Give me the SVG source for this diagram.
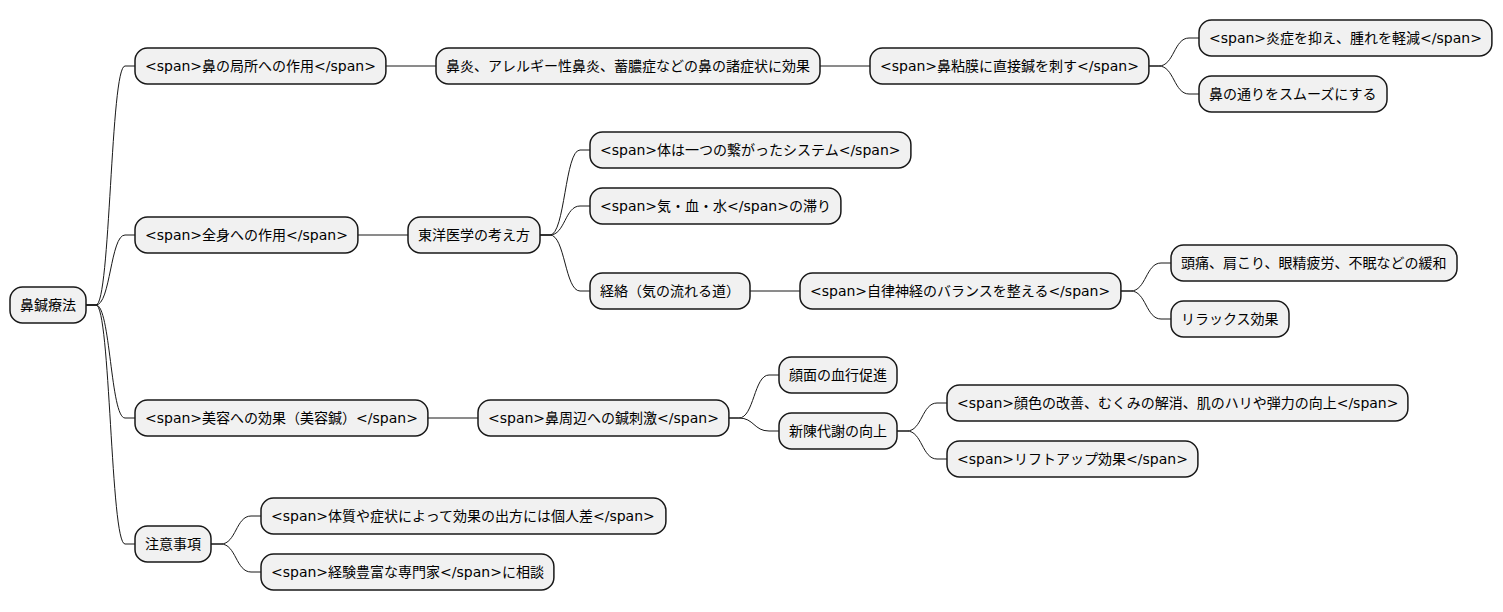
<svg xmlns="http://www.w3.org/2000/svg" width="1503" height="612" viewBox="0 0 1503 612">
<style>
.n rect{fill:#F1F1F1;stroke:#181818;stroke-width:1.5}
.n text{font-family:"DejaVu Sans","Noto Sans CJK JP",sans-serif;font-size:14px;fill:#000000}
#connectors path{fill:none;stroke:#181818;stroke-width:1}
</style>
<rect width="1503" height="612" fill="#FFFFFF"/>
<g id="connectors">
<path d="M86 305 L96 305 C110.5 305 110.5 66 125 66 L135 66"/>
<path d="M86 305 L96 305 C110.5 305 110.5 235 125 235 L135 235"/>
<path d="M86 305 L96 305 C110.5 305 110.5 418 125 418 L135 418"/>
<path d="M86 305 L96 305 C110.5 305 110.5 544 125 544 L135 544"/>
<path d="M385.9 66 L436 66"/>
<path d="M820 66 L870 66"/>
<path d="M1148.9 66 L1158.9 66 C1174 66 1174 38 1189 38 L1199 38"/>
<path d="M1148.9 66 L1158.9 66 C1174 66 1174 94 1189 94 L1199 94"/>
<path d="M357.9 235 L408 235"/>
<path d="M540 235 L550 235 C565 235 565 150 580 150 L590 150"/>
<path d="M540 235 L550 235 C565 235 565 206 580 206 L590 206"/>
<path d="M540 235 L550 235 C565 235 565 291 580 291 L590 291"/>
<path d="M750 291 L800 291"/>
<path d="M1120.9 291 L1130.9 291 C1146 291 1146 263 1161 263 L1171 263"/>
<path d="M1120.9 291 L1130.9 291 C1146 291 1146 319 1161 319 L1171 319"/>
<path d="M427.9 418 L478 418"/>
<path d="M728.9 418 L738.9 418 C754 418 754 375 769 375 L779 375"/>
<path d="M728.9 418 L738.9 418 C754 418 754 431 769 431 L779 431"/>
<path d="M897 431 L907 431 C922 431 922 403 937 403 L947 403"/>
<path d="M897 431 L907 431 C922 431 922 459 937 459 L947 459"/>
<path d="M211 544 L221 544 C236 544 236 516 251 516 L261 516"/>
<path d="M211 544 L221 544 C236 544 236 572 251 572 L261 572"/>
</g>
<g id="root" class="n"><rect x="10" y="287" width="76" height="36" rx="12.5"/><text x="20" y="310">鼻鍼療法</text></g>
<g id="n1" class="n"><rect x="135" y="48" width="250.9" height="36" rx="12.5"/><text x="145" y="71">&lt;span&gt;鼻の局所への作用&lt;/span&gt;</text></g>
<g id="n1a" class="n"><rect x="436" y="48" width="384" height="36" rx="12.5"/><text x="446" y="71">鼻炎、アレルギー性鼻炎、蓄膿症などの鼻の諸症状に効果</text></g>
<g id="n1b" class="n"><rect x="870" y="48" width="278.9" height="36" rx="12.5"/><text x="880" y="71">&lt;span&gt;鼻粘膜に直接鍼を刺す&lt;/span&gt;</text></g>
<g id="n1b1" class="n"><rect x="1199" y="20" width="292.9" height="36" rx="12.5"/><text x="1209" y="43">&lt;span&gt;炎症を抑え、腫れを軽減&lt;/span&gt;</text></g>
<g id="n1b2" class="n"><rect x="1199" y="76" width="188" height="36" rx="12.5"/><text x="1209" y="99">鼻の通りをスムーズにする</text></g>
<g id="n2" class="n"><rect x="135" y="217" width="222.9" height="36" rx="12.5"/><text x="145" y="240">&lt;span&gt;全身への作用&lt;/span&gt;</text></g>
<g id="n2a" class="n"><rect x="408" y="217" width="132" height="36" rx="12.5"/><text x="418" y="240">東洋医学の考え方</text></g>
<g id="n2a1" class="n"><rect x="590" y="132" width="320.9" height="36" rx="12.5"/><text x="600" y="155">&lt;span&gt;体は一つの繋がったシステム&lt;/span&gt;</text></g>
<g id="n2a2" class="n"><rect x="590" y="188" width="250.9" height="36" rx="12.5"/><text x="600" y="211">&lt;span&gt;気・血・水&lt;/span&gt;の滞り</text></g>
<g id="n2a3" class="n"><rect x="590" y="273" width="160" height="36" rx="12.5"/><text x="600" y="296">経絡（気の流れる道）</text></g>
<g id="n2a3a" class="n"><rect x="800" y="273" width="320.9" height="36" rx="12.5"/><text x="810" y="296">&lt;span&gt;自律神経のバランスを整える&lt;/span&gt;</text></g>
<g id="n2a3a1" class="n"><rect x="1171" y="245" width="286" height="36" rx="12.5"/><text x="1181" y="268">頭痛、肩こり、眼精疲労、不眠などの緩和</text></g>
<g id="n2a3a2" class="n"><rect x="1171" y="301" width="118" height="36" rx="12.5"/><text x="1181" y="324">リラックス効果</text></g>
<g id="n3" class="n"><rect x="135" y="400" width="292.9" height="36" rx="12.5"/><text x="145" y="423">&lt;span&gt;美容への効果（美容鍼）&lt;/span&gt;</text></g>
<g id="n3a" class="n"><rect x="478" y="400" width="250.9" height="36" rx="12.5"/><text x="488" y="423">&lt;span&gt;鼻周辺への鍼刺激&lt;/span&gt;</text></g>
<g id="n3a1" class="n"><rect x="779" y="357" width="118" height="36" rx="12.5"/><text x="789" y="380">顔面の血行促進</text></g>
<g id="n3a2" class="n"><rect x="779" y="413" width="118" height="36" rx="12.5"/><text x="789" y="436">新陳代謝の向上</text></g>
<g id="n3a2a" class="n"><rect x="947" y="385" width="460.9" height="36" rx="12.5"/><text x="957" y="408">&lt;span&gt;顔色の改善、むくみの解消、肌のハリや弾力の向上&lt;/span&gt;</text></g>
<g id="n3a2b" class="n"><rect x="947" y="441" width="250.9" height="36" rx="12.5"/><text x="957" y="464">&lt;span&gt;リフトアップ効果&lt;/span&gt;</text></g>
<g id="n4" class="n"><rect x="135" y="526" width="76" height="36" rx="12.5"/><text x="145" y="549">注意事項</text></g>
<g id="n4a" class="n"><rect x="261" y="498" width="404.9" height="36" rx="12.5"/><text x="271" y="521">&lt;span&gt;体質や症状によって効果の出方には個人差&lt;/span&gt;</text></g>
<g id="n4b" class="n"><rect x="261" y="554" width="292.9" height="36" rx="12.5"/><text x="271" y="577">&lt;span&gt;経験豊富な専門家&lt;/span&gt;に相談</text></g>
</svg>
